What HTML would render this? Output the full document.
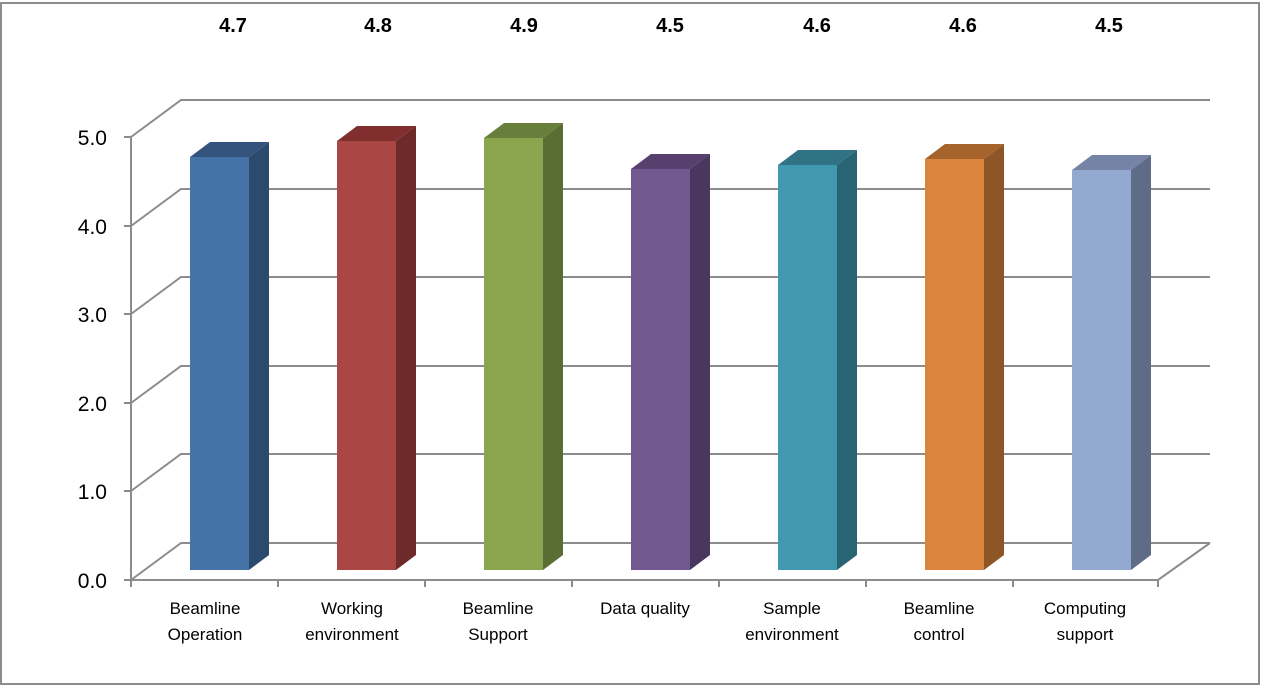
<!DOCTYPE html>
<html><head><meta charset="utf-8"><style>
html,body{margin:0;padding:0;background:#fff;}
svg{display:block;font-family:"Liberation Sans",sans-serif;}
</style></head><body>
<svg width="1262" height="687" viewBox="0 0 1262 687" xmlns="http://www.w3.org/2000/svg">
<rect x="1" y="3" width="1258" height="681" fill="#fff" stroke="#8c8c8c" stroke-width="2"/>
<g stroke="#8c8c8c" stroke-width="2" fill="none">
<polyline points="131,137 181,100 1210,100"/>
<polyline points="131,226 181,189 1210,189"/>
<polyline points="131,314 181,277 1210,277"/>
<polyline points="131,403 181,366 1210,366"/>
<polyline points="131,491 181,454 1210,454"/>
<polyline points="131,580 181,543 1210,543"/>
<line x1="131" y1="137" x2="131" y2="580"/>
<polyline points="131,580 1158,580 1210,543"/>
<line x1="124" y1="137" x2="131" y2="137"/><line x1="124" y1="226" x2="131" y2="226"/>
<line x1="124" y1="314" x2="131" y2="314"/><line x1="124" y1="403" x2="131" y2="403"/>
<line x1="124" y1="491" x2="131" y2="491"/><line x1="124" y1="580" x2="131" y2="580"/>
<line x1="131" y1="580" x2="131" y2="587"/><line x1="278" y1="580" x2="278" y2="587"/>
<line x1="425" y1="580" x2="425" y2="587"/><line x1="572" y1="580" x2="572" y2="587"/>
<line x1="719" y1="580" x2="719" y2="587"/><line x1="866" y1="580" x2="866" y2="587"/>
<line x1="1013" y1="580" x2="1013" y2="587"/><line x1="1158" y1="580" x2="1158" y2="587"/>
</g>
<g>
<polygon points="190,157 210,142 269,142 249,157" fill="#34547e"/><polygon points="249,157 269,142 269,555 249,570" fill="#2c4a6e"/><rect x="190" y="157" width="59" height="413" fill="#4572a7"/>
<polygon points="337,141 357,126 416,126 396,141" fill="#812f2e"/><polygon points="396,141 416,126 416,555 396,570" fill="#6e2a29"/><rect x="337" y="141" width="59" height="429" fill="#aa4643"/>
<polygon points="484,138 504,123 563,123 543,138" fill="#677f3a"/><polygon points="543,138 563,123 563,555 543,570" fill="#5a6e33"/><rect x="484" y="138" width="59" height="432" fill="#89a54e"/>
<polygon points="631,169 651,154 710,154 690,169" fill="#573f6e"/><polygon points="690,169 710,154 710,555 690,570" fill="#4a3760"/><rect x="631" y="169" width="59" height="401" fill="#71588f"/>
<polygon points="778,165 798,150 857,150 837,165" fill="#2f7385"/><polygon points="837,165 857,150 857,555 837,570" fill="#286473"/><rect x="778" y="165" width="59" height="405" fill="#4198af"/>
<polygon points="925,159 945,144 1004,144 984,159" fill="#a6632c"/><polygon points="984,159 1004,144 1004,555 984,570" fill="#8e5527"/><rect x="925" y="159" width="59" height="411" fill="#db843d"/>
<polygon points="1072,170 1092,155 1151,155 1131,170" fill="#7584a6"/><polygon points="1131,170 1151,155 1151,555 1131,570" fill="#5f6c88"/><rect x="1072" y="170" width="59" height="400" fill="#93a9cf"/>
</g>
<g font-size="21" fill="#000" text-anchor="end">
<text x="107" y="145">5.0</text><text x="107" y="234">4.0</text><text x="107" y="322">3.0</text>
<text x="107" y="411">2.0</text><text x="107" y="499">1.0</text><text x="107" y="588">0.0</text>
</g>
<g font-size="20" font-weight="bold" text-anchor="middle">
<text x="233" y="32">4.7</text><text x="378" y="32">4.8</text><text x="524" y="32">4.9</text>
<text x="670" y="32">4.5</text><text x="817" y="32">4.6</text><text x="963" y="32">4.6</text><text x="1109" y="32">4.5</text>
</g>
<g font-size="17" text-anchor="middle">
<text x="205" y="614">Beamline</text><text x="205" y="640">Operation</text>
<text x="352" y="614">Working</text><text x="352" y="640">environment</text>
<text x="498" y="614">Beamline</text><text x="498" y="640">Support</text>
<text x="645" y="614">Data quality</text>
<text x="792" y="614">Sample</text><text x="792" y="640">environment</text>
<text x="939" y="614">Beamline</text><text x="939" y="640">control</text>
<text x="1085" y="614">Computing</text><text x="1085" y="640">support</text>
</g>
</svg>
</body></html>
